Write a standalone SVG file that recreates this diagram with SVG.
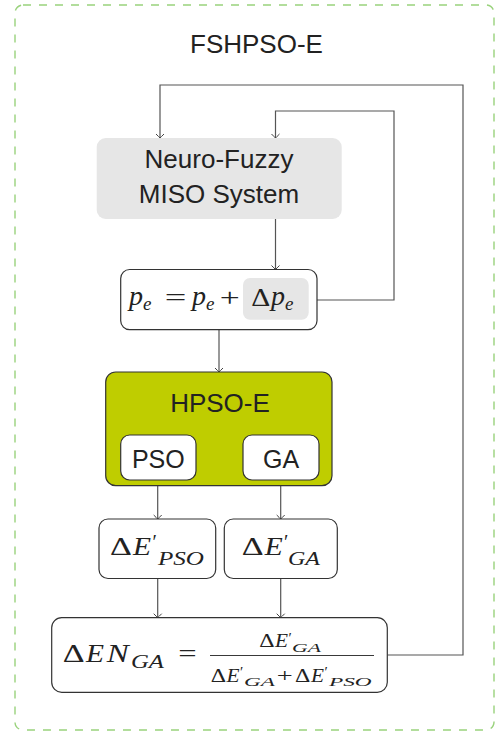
<svg xmlns="http://www.w3.org/2000/svg" width="495" height="731" viewBox="0 0 495 731">
<defs>
<style>
.sans{font-family:"Liberation Sans","DejaVu Sans",sans-serif;fill:#222;}
.m{font-family:"Liberation Serif","DejaVu Serif",serif;fill:#222;}
.i{font-style:italic;}
.box{fill:#fff;stroke:#333;stroke-width:1.2;}
.conn{fill:none;stroke:#555;stroke-width:1.2;}
</style>
<marker id="arr" viewBox="-5 -5 6 10" refX="0" refY="0" markerWidth="6" markerHeight="10" markerUnits="userSpaceOnUse" orient="auto" overflow="visible">
<path d="M-4,-4 Q-1.2,-1.2 0,0 Q-1.2,1.2 -4,4" fill="none" stroke="#444" stroke-width="1"/>
</marker>
</defs>
<rect x="15" y="5" width="479" height="725" rx="8" fill="none" stroke="#99d27c" stroke-width="1.4" stroke-dasharray="8 8"/>
<text class="sans" x="256.5" y="53" font-size="26" text-anchor="middle">FSHPSO-E</text>

<g id="connectors">
<path class="conn" d="M387.3,655 H463 V85 H160 V138" marker-end="url(#arr)"/>
<path class="conn" d="M317,300 H394 V111 H275.5 V138" marker-end="url(#arr)"/>
<path class="conn" d="M275.5,219 V269.5" marker-end="url(#arr)"/>
<path class="conn" d="M219,330 V372" marker-end="url(#arr)"/>
<path class="conn" d="M157.7,480 V519" marker-end="url(#arr)"/>
<path class="conn" d="M280.7,480 V519" marker-end="url(#arr)"/>
<path class="conn" d="M157.7,579 V617.7" marker-end="url(#arr)"/>
<path class="conn" d="M280.7,579 V617.7" marker-end="url(#arr)"/>
</g>

<g id="neurofuzzy">
<rect x="96.7" y="138" width="245" height="81" rx="9" fill="#e6e6e6"/>
<text class="sans" x="219" y="168" font-size="26" text-anchor="middle">Neuro-Fuzzy</text>
<text class="sans" x="219" y="203" font-size="26" text-anchor="middle">MISO System</text>
</g>

<g id="pe">
<rect class="box" x="120.7" y="269.5" width="196.3" height="60.2" rx="9"/>
<rect x="243" y="278" width="65.7" height="41.7" rx="7" fill="#e6e6e6"/>
<text class="m" font-size="28">
<tspan class="i" x="129" y="305">p</tspan><tspan class="i" x="143" y="310" font-size="19">e</tspan>
<tspan x="164.7" y="306" font-size="26" textLength="21.6" lengthAdjust="spacingAndGlyphs">=</tspan>
<tspan class="i" x="192" y="305">p</tspan><tspan class="i" x="206" y="310" font-size="19">e</tspan>
<tspan x="219.7" y="306" font-size="26" textLength="20" lengthAdjust="spacingAndGlyphs">+</tspan>
<tspan x="251.3" y="306" font-size="26" textLength="19" lengthAdjust="spacingAndGlyphs">Δ</tspan>
<tspan class="i" x="271" y="305">p</tspan><tspan class="i" x="285" y="310" font-size="19">e</tspan>
</text>
</g>

<g id="hpso">
<rect x="105.7" y="372" width="226.3" height="113.7" rx="10" fill="#bfcd00" stroke="#333" stroke-width="1.2"/>
<text class="sans" x="220" y="412" font-size="26" text-anchor="middle">HPSO-E</text>
</g>

<g id="pso">
<rect class="box" x="120.7" y="435" width="75.3" height="45" rx="9"/>
<text class="sans" x="158.3" y="468" font-size="25" text-anchor="middle">PSO</text>
</g>

<g id="ga">
<rect class="box" x="243" y="435" width="76" height="45" rx="9"/>
<text class="sans" x="281" y="468" font-size="25" text-anchor="middle">GA</text>
</g>

<g id="dEpso">
<rect class="box" x="99" y="519" width="116.7" height="59.5" rx="9"/>
<text class="m" font-size="26">
<tspan x="110" y="555" textLength="20" lengthAdjust="spacingAndGlyphs">Δ</tspan>
<tspan class="i" x="133" y="555" textLength="18" lengthAdjust="spacingAndGlyphs">E</tspan>
<tspan x="152.5" y="549" font-size="20">′</tspan>
<tspan class="i" x="158" y="565" font-size="18" textLength="46" lengthAdjust="spacingAndGlyphs">PSO</tspan>
</text>
</g>

<g id="dEga">
<rect class="box" x="224.3" y="519" width="113" height="59.5" rx="9"/>
<text class="m" font-size="26">
<tspan x="241.7" y="555" textLength="20" lengthAdjust="spacingAndGlyphs">Δ</tspan>
<tspan class="i" x="264.7" y="555" textLength="18" lengthAdjust="spacingAndGlyphs">E</tspan>
<tspan x="284" y="549" font-size="20">′</tspan>
<tspan class="i" x="288" y="565" font-size="18" textLength="32" lengthAdjust="spacingAndGlyphs">GA</tspan>
</text>
</g>

<g id="denga">
<rect class="box" x="51.7" y="617.7" width="335.6" height="74.6" rx="10"/>
<text class="m" font-size="26">
<tspan x="62.7" y="662" textLength="20" lengthAdjust="spacingAndGlyphs">Δ</tspan>
<tspan class="i" x="86" y="662" textLength="18" lengthAdjust="spacingAndGlyphs">E</tspan>
<tspan class="i" x="106.7" y="662" textLength="22" lengthAdjust="spacingAndGlyphs">N</tspan>
<tspan class="i" x="131" y="668" font-size="18" textLength="33" lengthAdjust="spacingAndGlyphs">GA</tspan>
<tspan x="178.3" y="662" textLength="18.4" lengthAdjust="spacingAndGlyphs">=</tspan>
</text>
<line x1="210" y1="655.5" x2="374" y2="655.5" stroke="#222" stroke-width="0.9"/>
<text class="m" font-size="18">
<tspan x="259.3" y="647.3" textLength="14" lengthAdjust="spacingAndGlyphs">Δ</tspan>
<tspan class="i" x="275" y="647.3" textLength="13" lengthAdjust="spacingAndGlyphs">E</tspan>
<tspan x="288.5" y="643" font-size="15">′</tspan>
<tspan class="i" x="292" y="651.5" font-size="13" textLength="29" lengthAdjust="spacingAndGlyphs">GA</tspan>
<tspan x="210.7" y="681.7" textLength="14" lengthAdjust="spacingAndGlyphs">Δ</tspan>
<tspan class="i" x="226.5" y="681.7" textLength="13" lengthAdjust="spacingAndGlyphs">E</tspan>
<tspan x="240" y="677.4" font-size="15">′</tspan>
<tspan class="i" x="244" y="686" font-size="13" textLength="31" lengthAdjust="spacingAndGlyphs">GA</tspan>
<tspan x="276.7" y="681.7" textLength="16" lengthAdjust="spacingAndGlyphs">+</tspan>
<tspan x="295" y="681.7" textLength="14" lengthAdjust="spacingAndGlyphs">Δ</tspan>
<tspan class="i" x="311" y="681.7" textLength="13" lengthAdjust="spacingAndGlyphs">E</tspan>
<tspan x="324.5" y="677.4" font-size="15">′</tspan>
<tspan class="i" x="329" y="686" font-size="13" textLength="42.7" lengthAdjust="spacingAndGlyphs">PSO</tspan>
</text>
</g>
</svg>
